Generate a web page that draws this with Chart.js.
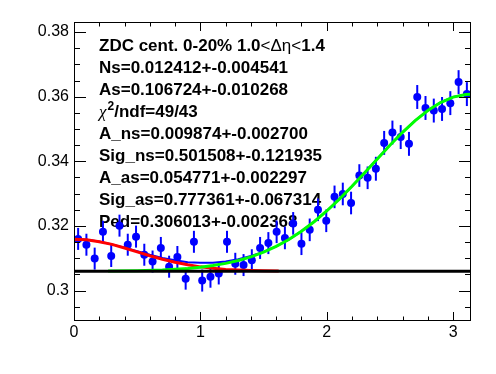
<!DOCTYPE html>
<html><head><meta charset="utf-8">
<script src="https://cdn.jsdelivr.net/npm/chart.js@4.4.1/dist/chart.umd.min.js"></script>
<style>html,body{margin:0;padding:0;background:#fff}#wrap{width:496px;height:374px}</style>
</head><body><div id="wrap"><canvas id="c" width="496" height="374"></canvas></div>
<script>
// ---- data ----
const binCenters = [0.0327,0.0982,0.1636,0.2291,0.2945,0.3600,0.4254,0.4909,0.5563,0.6218,
  0.6872,0.7527,0.8181,0.8836,0.9490,1.0145,1.0799,1.1454,1.2108,1.2763,
  1.3417,1.4072,1.4726,1.5381,1.6035,1.6690,1.7344,1.7999,1.8653,1.9308,
  1.9962,2.0617,2.1271,2.1926,2.2580,2.3235,2.3889,2.4544,2.5198,2.5853,
  2.6507,2.7162,2.7816,2.8471,2.9125,2.9780,3.0434,3.1089];
const yieldValues = [0.3160,0.3142,0.3099,0.3182,0.3107,0.3201,0.3142,0.3167,0.3111,0.3090,
  0.3132,0.3074,0.3104,0.3037,0.3151,0.3031,0.3043,0.3053,0.3151,0.3083,
  0.3079,0.3094,0.3132,0.3147,0.3182,0.3163,0.3208,0.3145,0.3188,0.3250,
  0.3216,0.3290,0.3299,0.3271,0.3356,0.3349,0.3377,0.3457,0.3489,0.3475,
  0.3454,0.3599,0.3565,0.3557,0.3562,0.3580,0.3645,0.3608];
const yieldErrors = [0.0034,0.0034,0.0034,0.0034,0.0034,0.0034,0.0034,0.0034,0.0034,0.0034,
  0.0034,0.0034,0.0034,0.0034,0.0034,0.0034,0.0034,0.0034,0.0034,0.0034,
  0.0034,0.0034,0.0034,0.0034,0.0035,0.0035,0.0035,0.0035,0.0035,0.0035,
  0.0035,0.0035,0.0035,0.0035,0.0035,0.0035,0.0037,0.0037,0.0037,0.0037,
  0.0037,0.0037,0.0037,0.0037,0.0037,0.0037,0.0037,0.0037];

const totalFitX = [0,0.1,0.2,0.3,0.4,0.5,0.6,0.7,0.8,0.9,1.0,1.1,1.2,1.3,1.4,1.5,1.6,1.7,1.8,1.9,2.0,2.1,2.2,2.3,2.4,2.5,2.6,2.7,2.8,2.9,3.0,3.1,3.1416];
const totalFitY = [0.3159,0.3157,0.3152,0.3143,0.3133,0.3122,0.3111,0.3101,0.3094,0.3088,0.3086,0.3086,0.3090,0.3097,0.3107,0.3120,0.3137,0.3158,0.3184,0.3213,0.3246,0.3283,0.3323,0.3365,0.3408,0.3450,0.3490,0.3526,0.3557,0.3582,0.3599,0.3607,0.3608];

const nearSideX = [0,0.1,0.2,0.3,0.4,0.5,0.6,0.7,0.8,0.9,1.0,1.1,1.2,1.3,1.4,1.5,1.62];
const nearSideY = [0.3159,0.3157,0.3151,0.3143,0.3132,0.3120,0.3108,0.3097,0.3088,0.3080,0.30735,0.3069,0.30656,0.30634,0.3062,0.30611,0.30605];

const awaySideX = [0.27,0.5,0.7,0.9,1.0,1.1,1.2,1.3,1.4,1.5,1.6,1.7,1.8,1.9,2.0,2.1,2.2,2.3,2.4,2.5,2.6,2.7,2.8,2.9,3.0,3.1,3.1416];
const awaySideY = [0.30606,0.30617,0.30639,0.30686,0.30723,0.30774,0.30842,0.30931,0.31045,0.31189,0.31367,0.3158,0.31836,0.3213,0.32463,0.32832,0.3323,0.33648,0.34075,0.34496,0.34897,0.35261,0.35573,0.35819,0.35987,0.36069,0.36077];

const pedestalX = [0, 3.1416];
const pedestalY = [0.306, 0.306];

const xTickValues = [0, 1, 2, 3];
const xTickLabels = ['0', '1', '2', '3'];
const yTickValues = [0.30, 0.32, 0.34, 0.36, 0.38];
const yTickLabels = ['0.3', '0.32', '0.34', '0.36', '0.38'];

const infoLines = [
  [['ZDC cent. 0-20% 1.0','b'],['<\u0394\u03b7<','r'],['1.4','b']],
  [['Ns=0.012412+-0.004541','b']],
  [['As=0.106724+-0.010268','b']],
  [['\u03c7','g'],['2','s'],['/ndf=49/43','b']],
  [['A_ns=0.009874+-0.002700','b']],
  [['Sig_ns=0.501508+-0.121935','b']],
  [['A_as=0.054771+-0.002297','b']],
  [['Sig_as=0.777361+-0.067314','b']],
  [['Ped=0.306013+-0.002368','b']]
];

// ---- helpers ----
const toXY = (xs, ys) => xs.map((x, i) => ({x: x, y: ys[i]}));
const FONT = '"Liberation Sans", Arial, sans-serif';

const errorBarPlugin = {
  id: 'errbars',
  beforeDatasetDraw(chart, args) {
    if (args.index !== 0) return;
    const ctx = chart.ctx, xs = chart.scales.x, ys = chart.scales.y, a = chart.chartArea;
    ctx.save();
    ctx.beginPath(); ctx.rect(a.left, a.top, a.right - a.left, a.bottom - a.top); ctx.clip();
    ctx.strokeStyle = '#0000ff'; ctx.lineWidth = 2;
    binCenters.forEach((x, i) => {
      const px = xs.getPixelForValue(x);
      ctx.beginPath();
      ctx.moveTo(px, ys.getPixelForValue(yieldValues[i] - yieldErrors[i]));
      ctx.lineTo(px, ys.getPixelForValue(yieldValues[i] + yieldErrors[i]));
      ctx.stroke();
    });
    ctx.restore();
  }
};

const textPlugin = {
  id: 'infotext',
  beforeDatasetsDraw(chart) {
    const ctx = chart.ctx;
    ctx.save();
    ctx.fillStyle = '#000';
    ctx.textBaseline = 'alphabetic';
    ctx.textAlign = 'left';
    const x0 = 99, y0 = 50.5, dy = 22;
    infoLines.forEach((segs, li) => {
      let x = x0; const y = y0 + li * dy;
      segs.forEach(([t, st]) => {
        let yy = y;
        if (st === 'b') ctx.font = 'bold 17px ' + FONT;
        else if (st === 'r') ctx.font = '17px ' + FONT;
        else if (st === 'g') ctx.font = 'italic 17px "Liberation Serif", serif';
        else if (st === 's') { ctx.font = 'bold 12px ' + FONT; yy = y - 7; }
        ctx.fillText(t, x, yy);
        x += ctx.measureText(t).width + (st === 'g' ? 1 : 0);
      });
    });
    ctx.restore();
  }
};

const framePlugin = {
  id: 'frame',
  afterDraw(chart) {
    const ctx = chart.ctx, xs = chart.scales.x, ys = chart.scales.y, a = chart.chartArea;
    ctx.save();
    ctx.strokeStyle = '#000'; ctx.lineWidth = 1;
    ctx.strokeRect(a.left + 0.5, a.top + 0.5, a.right - a.left - 1, a.bottom - a.top - 1);
    ctx.beginPath();
    for (let k = 0; k <= 15; k++) {
      const v = 0.2 * k;
      const px = Math.round(xs.getPixelForValue(v)) + 0.5;
      const len = (k % 5 === 0) ? 9 : 4.5;
      ctx.moveTo(px, a.bottom); ctx.lineTo(px, a.bottom - len);
      ctx.moveTo(px, a.top); ctx.lineTo(px, a.top + len);
    }
    for (let k = 59; k <= 76; k++) {
      const v = k * 0.005;
      const py = Math.round(ys.getPixelForValue(v)) + 0.5;
      const len = (k % 4 === 0) ? 12 : 6;
      ctx.moveTo(a.left, py); ctx.lineTo(a.left + len, py);
      ctx.moveTo(a.right, py); ctx.lineTo(a.right - len, py);
    }
    ctx.stroke();
    ctx.restore();
  }
};

new Chart(document.getElementById('c'), {
  type: 'scatter',
  data: {
    datasets: [
      {label: 'data', data: toXY(binCenters, yieldValues), showLine: false,
       pointRadius: 4, pointHoverRadius: 4, pointBackgroundColor: '#0000ff', pointBorderWidth: 0, order: 10},
      {label: 'total', data: toXY(totalFitX, totalFitY), showLine: true, pointRadius: 0,
       borderColor: '#0000ff', borderWidth: 2, order: 4},
      {label: 'near', data: toXY(nearSideX, nearSideY), showLine: true, pointRadius: 0,
       borderColor: '#ff0000', borderWidth: 3, order: 3},
      {label: 'away', data: toXY(awaySideX, awaySideY), showLine: true, pointRadius: 0,
       borderColor: '#00ff00', borderWidth: 3, order: 2},
      {label: 'ped', data: toXY(pedestalX, pedestalY), showLine: true, pointRadius: 0,
       borderColor: '#000000', borderWidth: 3, order: 1}
    ]
  },
  options: {
    responsive: false, animation: false, devicePixelRatio: 1,
    layout: {padding: {top: 22, right: 25, left: 0, bottom: 0}},
    plugins: {legend: {display: false}, tooltip: {enabled: false}},
    scales: {
      x: {type: 'linear', min: 0, max: 3.1416,
        afterBuildTicks: s => { s.ticks = xTickValues.map(v => ({value: v})); },
        afterFit: s => { s.height = 53; },
        grid: {display: false, drawTicks: false}, border: {display: false},
        ticks: {callback: (v, i) => xTickLabels[i], color: '#000', padding: 2,
          font: {family: FONT, size: 16}, maxRotation: 0, autoSkip: false}},
      y: {type: 'linear', min: 0.2906, max: 0.3831,
        afterBuildTicks: s => { s.ticks = yTickValues.map(v => ({value: v})); },
        afterFit: s => { s.width = 74; },
        grid: {display: false, drawTicks: false}, border: {display: false},
        ticks: {callback: (v, i) => yTickLabels[i], color: '#000', padding: 5,
          font: {family: FONT, size: 16}, autoSkip: false}}
    }
  },
  plugins: [errorBarPlugin, textPlugin, framePlugin]
});
</script></body></html>
